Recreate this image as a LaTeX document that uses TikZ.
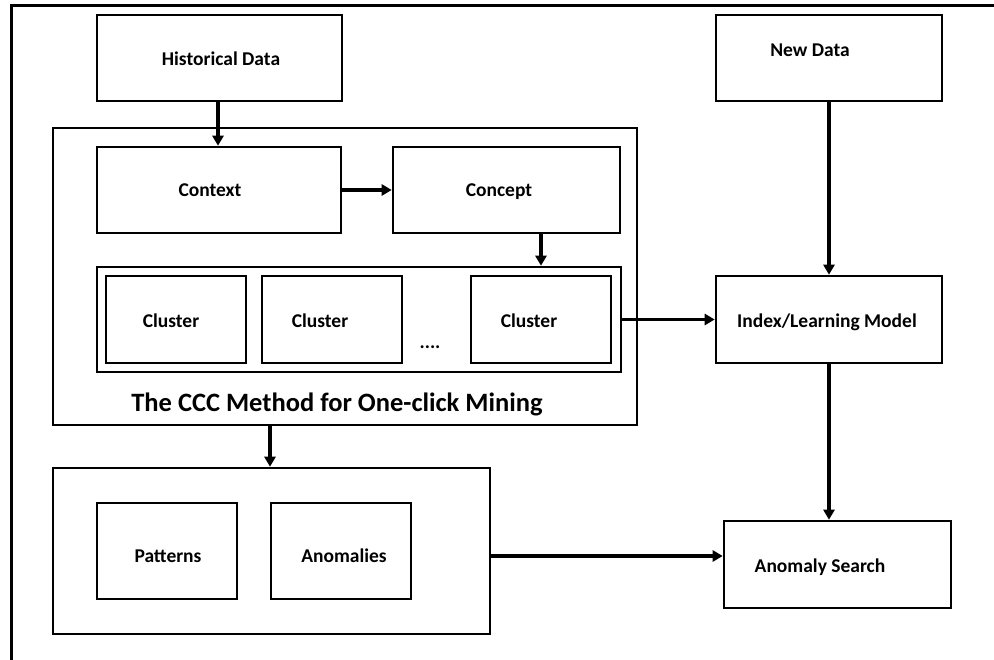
\documentclass[tikz,border=0pt]{standalone}
\usepackage{fontspec}
\setmainfont{Carlito}
\usetikzlibrary{arrows.meta}
\begin{document}
\begin{tikzpicture}[x=1pt,y=-1pt,
  box/.style={draw, line width=2.6pt, rectangle, inner sep=0pt},
  lbl/.style={font=\bfseries\fontsize{19.5}{22}\selectfont, inner sep=0pt, anchor=base},
  flow/.style={line width=3.4pt, -{Triangle[length=10pt,width=11pt]}}]
\useasboundingbox (0,0) rectangle (994,660);
% open frame
\draw[line width=3pt] (11,660) -- (11,6) -- (994,6);
% boxes: name, centre, size
\node[box, minimum width=245pt, minimum height=86pt] (hist) at (219.5,58) {};
\node[box, minimum width=226pt, minimum height=86pt] (new) at (829,58) {};
\node[box, minimum width=584pt, minimum height=297pt] (ccc) at (345,276.5) {};
\node[box, minimum width=244pt, minimum height=86pt] (ctx) at (219,190) {};
\node[box, minimum width=227pt, minimum height=86pt] (cpt) at (506.5,190) {};
\node[box, minimum width=524pt, minimum height=105pt] (grp) at (359,319.5) {};
\node[box, minimum width=140pt, minimum height=87pt] (c1) at (176,319.5) {};
\node[box, minimum width=140pt, minimum height=87pt] (c2) at (332,319.5) {};
\node[box, minimum width=140pt, minimum height=87pt] (c3) at (541,319.5) {};
\node[box, minimum width=226pt, minimum height=87pt] (idx) at (829,319.5) {};
\node[box, minimum width=437pt, minimum height=166pt] (res) at (271.5,551) {};
\node[box, minimum width=140pt, minimum height=96pt] (pat) at (167,551) {};
\node[box, minimum width=140pt, minimum height=96pt] (ano) at (341,551) {};
\node[box, minimum width=227pt, minimum height=87pt] (srch) at (837.5,564.5) {};
% texts, placed on their baselines
\node[lbl] (histT) at (221,65.5) {Historical Data};
\node[lbl] (newT) at (810,56.5) {New Data};
\node[lbl] (ctxT) at (210,196.5) {Context};
\node[lbl] (cptT) at (499,196.5) {Concept};
\node[lbl] (c1T) at (171,327.5) {Cluster};
\node[lbl] (c2T) at (320,327.5) {Cluster};
\node[lbl] (c3T) at (529,327.5) {Cluster};
\node[lbl] (dots) at (430,349) {....};
\node[lbl] (idxT) at (827,327.5) {Index/Learning Model};
\node[lbl] (patT) at (168,562.5) {Patterns};
\node[lbl] (anoT) at (344,562.5) {Anomalies};
\node[lbl] (srchT) at (820,572.5) {Anomaly Search};
\node[font=\bfseries\fontsize{26.5}{30}\selectfont, inner sep=0pt, anchor=base] (cccT) at (337,412) {The CCC Method for One-click Mining};
% connectors
\draw[flow] (hist.south -| 218,0) -- (ctx.north -| 218,0);
\draw[flow] (ctx.east) -- (cpt.west);
\draw[flow] (cpt.south -| 541,0) -- (grp.north -| 541,0);
\draw[flow] (grp.east) -- (idx.west);
\draw[flow] (new.south) -- (idx.north);
\draw[flow] (idx.south) -- (srch.north -| idx.south);
\draw[flow] (ccc.south -| 270,0) -- (res.north -| 270,0);
\draw[flow] (res.east |- 0,556) -- (srch.west |- 0,556);
\end{tikzpicture}
\end{document}
